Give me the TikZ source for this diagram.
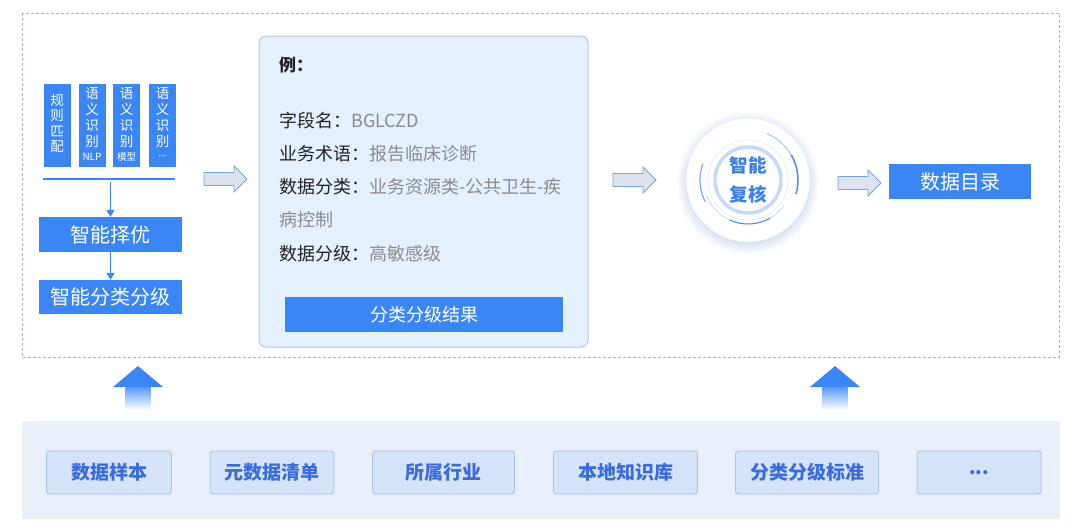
\documentclass[tikz,border=0pt]{standalone}
\usepackage{fontspec}
\setmainfont{Noto Sans CJK SC}
\usetikzlibrary{arrows.meta}
\definecolor{mblue}{HTML}{3B86F6}
\definecolor{framec}{HTML}{9DB2DD}
\definecolor{cardfill}{HTML}{E4F0FD}
\definecolor{cardborder}{HTML}{B5C6E8}
\definecolor{arrowfill}{HTML}{DCE3EF}
\definecolor{arrowborder}{HTML}{74A6DC}
\definecolor{panelfill}{HTML}{E9EFF9}
\definecolor{bboxfill}{HTML}{D5E3F8}
\definecolor{bboxborder}{HTML}{A8BFE8}
\definecolor{btext}{HTML}{3A6CDE}
\definecolor{gtext}{HTML}{8C8C8C}
\definecolor{ltext}{HTML}{222222}
\definecolor{glowc}{HTML}{7FA5F2}
\definecolor{ringc}{HTML}{C6DAF8}
\definecolor{ringfaint}{HTML}{E2ECFB}
\definecolor{arcblue}{HTML}{4A8CF0}
\definecolor{arclight}{HTML}{A9C6F4}
\definecolor{ctext}{HTML}{3A7FEA}
\newcommand{\smalltag}[1]{{\fontsize{10pt}{10pt}\selectfont #1}}
\tikzset{
  vbox/.style={fill=mblue, minimum width=27pt, minimum height=83pt, inner sep=0pt},
  vtxt/.style={text=white, align=center, inner sep=0pt, font=\fontsize{13.5pt}{16pt}\selectfont},
  bluebox/.style={fill=mblue, text=white, inner sep=0pt, font=\fontsize{20pt}{23pt}\selectfont},
  downarrow/.style={mblue, line width=1.4pt, -{Triangle[length=7pt,width=8pt]}},
  cardtxt/.style={anchor=base west, inner sep=0pt, text=ltext, font=\fontsize{18pt}{21pt}\selectfont},
  srcbox/.style={fill=bboxfill, draw=bboxborder, line width=0.8pt, rounded corners=3pt, minimum height=43pt, inner sep=0pt, text=btext, font=\bfseries\fontsize{19pt}{22pt}\selectfont},
  harrow/.pic={\draw[arrowborder, fill=arrowfill, line width=0.9pt, line join=miter]
     (0,-6.5) -- (30,-6.5) -- (30,-13) -- (43,0) -- (30,13) -- (30,6.5) -- (0,6.5) -- cycle;},
  uparrow/.pic={\shade[top color=mblue!85, bottom color=white] (-12.5,21) rectangle (12.5,44);
     \fill[mblue] (0,0) -- (25,21) -- (-25,21) -- cycle;}
}
\begin{document}
\begin{tikzpicture}[x=1pt,y=-1pt]
\useasboundingbox (0,0) rectangle (1080,528);
\fill[white] (0,0) rectangle (1080,528);

% dashed frame
\draw[framec, line width=0.9pt, dash pattern=on 3pt off 2pt] (22,13) rectangle (1059,357);

% left: method boxes
\node[vbox] (b1) at (57,125.5) {};
\node[vbox] (b2) at (92,125.5) {};
\node[vbox] (b3) at (126.5,125.5) {};
\node[vbox] (b4) at (162.5,125.5) {};
\node[vtxt, anchor=north, font=\fontsize{13.5pt}{15.5pt}\selectfont] (t1) at (57,94) {规\\则\\匹\\配};
\node[vtxt, anchor=north] (t2) at (92,87) {语\\义\\识\\别};
\node[vtxt, anchor=north] (t3) at (126.5,87) {语\\义\\识\\别};
\node[vtxt, anchor=north] (t4) at (162.5,87) {语\\义\\识\\别};
\node[text=white, inner sep=0pt, font=\fontsize{10pt}{10pt}\selectfont] (n2) at (92,157) {NLP};
\node[text=white, inner sep=0pt, font=\fontsize{9.5pt}{10pt}\selectfont] (n3) at (126.5,157) {模型};
\node[text=white, inner sep=0pt, font=\fontsize{9pt}{10pt}\selectfont] (n4) at (162.5,156) {...};
\coordinate (la) at (43,179);
\coordinate (lb) at (175,179);
\coordinate (lm) at (110.5,179);
\draw[mblue, line width=1.3pt] (la) -- (lb);
\node[bluebox, minimum width=143pt, minimum height=35pt] (zy) at (110.5,234.5) {智能择优};
\node[bluebox, minimum width=143pt, minimum height=34pt] (zf) at (110.5,297) {智能分类分级};
\draw[downarrow] ([yshift=-3pt]lm) -- (zy.north);
\draw[downarrow] (zy.south) -- (zf.north);

% hollow arrows
\pic at (204,179) {harrow};
\pic at (613,180) {harrow};
\pic at (838,183) {harrow};

% card
\node[fill=cardfill, draw=cardborder, line width=1pt, rounded corners=7pt, minimum width=329pt, minimum height=311pt] (card) at (423.5,191.5) {};
\node[cardtxt, font=\bfseries\fontsize{17pt}{20pt}\selectfont] (ex) at (279,71) {例：};
\node[cardtxt] (l1) at (279,127) {字段名：\textcolor{gtext}{BGLCZD}};
\node[cardtxt] (l2) at (279,160) {业务术语：\textcolor{gtext}{报告临床诊断}};
\node[cardtxt] (l3) at (279,193.5) {数据分类：\textcolor{gtext}{业务资源类-公共卫生-疾}};
\node[cardtxt, text=gtext] (l4) at (279,226.5) {病控制};
\node[cardtxt] (l5) at (279,260) {数据分级：\textcolor{gtext}{高敏感级}};
\node[bluebox, minimum width=278pt, minimum height=35pt, font=\fontsize{18pt}{21pt}\selectfont] (res) at (424,314.5) {分类分级结果};

% circle
\coordinate (cc) at (748,180);
\coordinate (cg) at (748,183);
\foreach \i in {0,...,11} {
  \fill[glowc, opacity=0.022] (cg) circle ({61+\i*0.9pt});
}
\fill[white] (cc) circle (62pt);
\draw[ringfaint, line width=0.8pt] (cc) circle (62pt);
\draw[ringfaint, line width=0.7pt] (cc) circle (40pt);
\draw[ringc, line width=3.5pt, fill=white] (cc) circle (33pt);
\draw[arcblue!70, line width=1.3pt] ([shift={(160:48pt)}]cc) arc[start angle=160, end angle=207, radius=48pt];
\draw[arclight, line width=1.1pt] ([shift={(68:50pt)}]cc) arc[start angle=68, end angle=30, radius=50pt];
\draw[arcblue, line width=1.5pt] ([shift={(30:50pt)}]cc) arc[start angle=30, end angle=-16, radius=50pt];
\draw[arclight!70, line width=0.8pt] ([shift={(200:44pt)}]cc) arc[start angle=200, end angle=325, radius=44pt];
\draw[arcblue, line width=1pt] ([shift={(245:44pt)}]cc) arc[start angle=245, end angle=300, radius=44pt];
\node[text=ctext, align=center, inner sep=0pt, font=\bfseries\fontsize{18.5pt}{29pt}\selectfont] (fh) at (cc) {智能\\复核};

% output
\node[bluebox, minimum width=142pt, minimum height=35pt] (ml) at (960,181.5) {数据目录};

% bottom panel
\fill[panelfill] (22,421) rectangle (1060,519);
\node[srcbox, minimum width=125pt] (s1) at (109,472.5) {数据样本};
\node[srcbox, minimum width=124pt] (s2) at (272,472.5) {元数据清单};
\node[srcbox, minimum width=142pt] (s3) at (443.5,472.5) {所属行业};
\node[srcbox, minimum width=144pt] (s4) at (625.5,472.5) {本地知识库};
\node[srcbox, minimum width=143pt] (s5) at (807,472.5) {分类分级标准};
\node[srcbox, minimum width=124pt] (s6) at (979,472.5) {...};

% up arrows
\pic at (138,366) {uparrow};
\pic at (835,366) {uparrow};
\end{tikzpicture}
\end{document}
